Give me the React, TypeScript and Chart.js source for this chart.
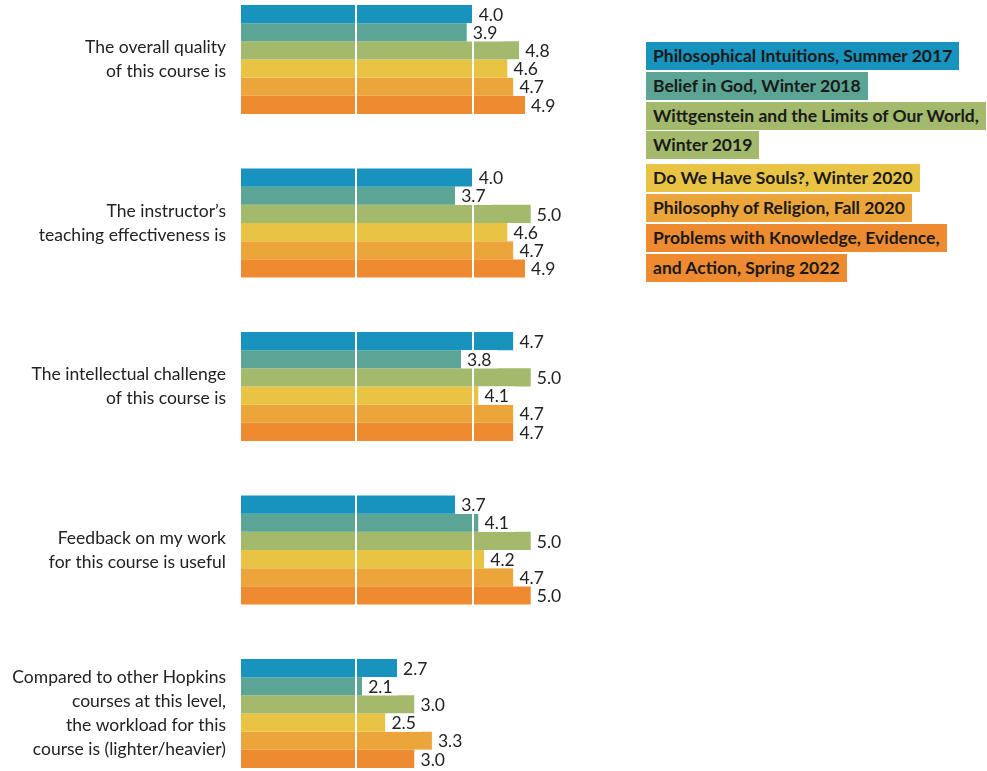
import React, { useEffect, useRef } from "react";
import { Chart, registerables } from "chart.js";

Chart.register(...registerables);

const categories: string[][] = [
  ["The overall quality", "of this course is"],
  ["The instructor\u2019s", "teaching effectiveness is"],
  ["The intellectual challenge", "of this course is"],
  ["Feedback on my work", "for this course is useful"],
  ["Compared to other Hopkins", "courses at this level,", "the workload for this", "course is (lighter/heavier)"],
];

const courseLabels: string[][] = [
  ["Philosophical Intuitions, Summer 2017"],
  ["Belief in God, Winter 2018"],
  ["Wittgenstein and the Limits of Our World,", "Winter 2019"],
  ["Do We Have Souls?, Winter 2020"],
  ["Philosophy of Religion, Fall 2020"],
  ["Problems with Knowledge, Evidence,", "and Action, Spring 2022"],
];

const summer2017 = [4.0, 4.0, 4.7, 3.7, 2.7];
const winter2018 = [3.9, 3.7, 3.8, 4.1, 2.1];
const winter2019 = [4.8, 5.0, 5.0, 5.0, 3.0];
const winter2020 = [4.6, 4.6, 4.1, 4.2, 2.5];
const fall2020 = [4.7, 4.7, 4.7, 4.7, 3.3];
const spring2022 = [4.9, 4.9, 4.7, 5.0, 3.0];

const seriesValues = [summer2017, winter2018, winter2019, winter2020, fall2020, spring2022];
const seriesColors = ["#1893bd", "#5ca594", "#a3b96c", "#e9c444", "#eca53a", "#ee8a2f"];
const gridTicks = [2, 4];

const FONT = "17.5px Lato";

const categoryLabels = {
  id: "categoryLabels",
  afterDraw(chart: any) {
    const ctx = chart.ctx;
    const yScale = chart.scales.y;
    const xRight = chart.chartArea.left - 14;
    ctx.save();
    ctx.font = FONT;
    ctx.fillStyle = "#222222";
    ctx.textAlign = "right";
    ctx.textBaseline = "middle";
    const lineH = 24;
    categories.forEach((lines, i) => {
      const yc = yScale.getPixelForValue(i);
      const y0 = yc - ((lines.length - 1) * lineH) / 2;
      lines.forEach((line, k) => {
        ctx.fillText(line, xRight, y0 + k * lineH);
      });
    });
    ctx.restore();
  },
};

const valueLabels = {
  id: "valueLabels",
  afterDraw(chart: any) {
    const ctx = chart.ctx;
    ctx.save();
    ctx.font = FONT;
    ctx.textBaseline = "middle";
    ctx.textAlign = "left";
    chart.data.datasets.forEach((ds: any, i: number) => {
      const meta = chart.getDatasetMeta(i);
      meta.data.forEach((bar: any, j: number) => {
        const v = ds.data[j] as number;
        const text = v.toFixed(1);
        const w = ctx.measureText(text).width;
        const { x, y, height } = bar.getProps(["x", "y", "height"], true);
        ctx.fillStyle = "#ffffff";
        ctx.fillRect(x, y - height / 2, w + 12, height);
        ctx.fillStyle = "#222222";
        ctx.fillText(text, x + 6, y + 1);
      });
    });
    ctx.restore();
  },
};

export default function App() {
  const canvasRef = useRef<HTMLCanvasElement | null>(null);

  useEffect(() => {
    if (!canvasRef.current) return;
    const chart = new Chart(canvasRef.current, {
      type: "bar",
      data: {
        labels: categories.map((c) => c.join(" ")),
        datasets: seriesValues.map((vals, i) => ({
          label: courseLabels[i].join(" "),
          data: vals,
          backgroundColor: seriesColors[i],
          borderWidth: 0,
          barPercentage: 1,
          categoryPercentage: 2 / 3,
        })),
      },
      options: {
        animation: false,
        responsive: false,
        indexAxis: "y",
        layout: { padding: { top: 17.75, bottom: 24.75, left: 0, right: 31 } },
        plugins: {
          legend: { display: false },
          tooltip: { enabled: false },
        },
        scales: {
          x: {
            min: 0,
            max: 6,
            display: true,
            ticks: { display: false, stepSize: 2 },
            border: { display: false },
            grid: {
              z: 1,
              drawTicks: false,
              lineWidth: 2,
              color: (c: any) => (gridTicks.includes(c.tick?.value) ? "#ffffff" : "rgba(0,0,0,0)"),
            },
            afterFit: (s: any) => {
              s.height = 0;
            },
          },
          y: {
            display: true,
            grid: { display: false, drawTicks: false },
            border: { display: false },
            ticks: { display: false },
            afterFit: (s: any) => {
              s.width = 240;
            },
          },
        },
      },
      plugins: [categoryLabels, valueLabels],
    } as any);
    return () => chart.destroy();
  }, []);

  return (
    <div
      style={{
        position: "fixed",
        left: 0,
        top: 0,
        width: 987,
        height: 771,
        overflow: "hidden",
        background: "#ffffff",
      }}
    >
      <canvas
        ref={canvasRef}
        width={620}
        height={860}
        style={{ position: "absolute", left: 0, top: -40, width: 620, height: 860 }}
      />
      <div
        style={{
          position: "absolute",
          left: 646,
          top: 42,
          fontFamily: "Lato",
          fontWeight: 700,
          fontSize: 17.5,
          color: "#1a1a1a",
          whiteSpace: "nowrap",
        }}
      >
        {courseLabels.map((lines, i) => (
          <div key={i} style={{ marginBottom: i === 2 ? 3 : 0 }}>
            {lines.map((line, k) => (
              <div key={k} style={{ height: 29.8 }}>
                <span
                  style={{
                    display: "inline-block",
                    background: seriesColors[i],
                    height: 28,
                    lineHeight: "28px",
                    padding: "0 7px",
                  }}
                >
                  {line}
                </span>
              </div>
            ))}
          </div>
        ))}
      </div>
    </div>
  );
}
